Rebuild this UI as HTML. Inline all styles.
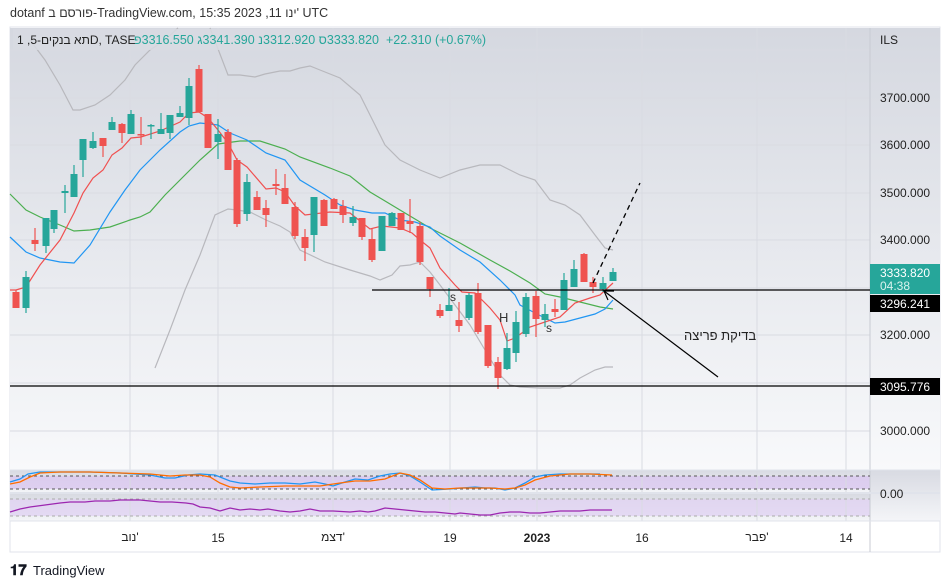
<!DOCTYPE html>
<html><head><meta charset="utf-8"><style>
body{margin:0;width:950px;height:587px;background:#fff;font-family:"Liberation Sans","Noto Sans CJK JP",sans-serif;overflow:hidden;position:relative}
.t{position:absolute;white-space:nowrap;direction:ltr}
.ib{display:inline-block}
.ax{position:absolute;top:530px;font-size:12px;color:#222;width:60px;text-align:center;direction:ltr}
</style></head><body>
<svg id="s" width="950" height="587" style="position:absolute;left:0;top:0" font-family="Liberation Sans, DejaVu Sans, sans-serif">
<defs>
<linearGradient id="bg" x1="0" y1="0" x2="0" y2="1"><stop offset="0" stop-color="#d5d8e0"/><stop offset="1" stop-color="#f8f9fb"/></linearGradient>
<linearGradient id="pg" x1="0" y1="0" x2="0" y2="1"><stop offset="0" stop-color="#d8dae2"/><stop offset="1" stop-color="#f4f5f8"/></linearGradient>
</defs>
<rect x="10" y="27" width="930" height="525" fill="#fff" stroke="#e0e3eb"/>
<rect x="10" y="28" width="860" height="442" fill="url(#bg)"/>
<rect x="870" y="28" width="70" height="442" fill="url(#bg)"/>
<rect x="10" y="470" width="860" height="23" fill="url(#pg)"/>
<rect x="10" y="494" width="860" height="27" fill="url(#pg)"/>
<rect x="870" y="470" width="70" height="51" fill="url(#pg)"/>
<rect x="10" y="476" width="860" height="13" fill="#d9c7ef" opacity="0.8"/>
<rect x="10" y="499" width="860" height="17" fill="#e1d3f3" opacity="0.8"/>
<g stroke="#d9dbe2" stroke-width="1">
<line x1="130" y1="28" x2="130" y2="521"/><line x1="218" y1="28" x2="218" y2="521"/><line x1="333" y1="28" x2="333" y2="521"/><line x1="450" y1="28" x2="450" y2="521"/><line x1="537" y1="28" x2="537" y2="521"/><line x1="642" y1="28" x2="642" y2="521"/><line x1="757" y1="28" x2="757" y2="521"/><line x1="846" y1="28" x2="846" y2="521"/>
<line x1="10" y1="50" x2="870" y2="50"/><line x1="10" y1="98" x2="870" y2="98"/><line x1="10" y1="145" x2="870" y2="145"/><line x1="10" y1="193" x2="870" y2="193"/><line x1="10" y1="240" x2="870" y2="240"/><line x1="10" y1="288" x2="870" y2="288"/><line x1="10" y1="335" x2="870" y2="335"/><line x1="10" y1="383" x2="870" y2="383"/><line x1="10" y1="431" x2="870" y2="431"/>
</g>
<line x1="870" y1="28" x2="870" y2="552" stroke="#c8cbd3"/>
<line x1="10" y1="470" x2="940" y2="470" stroke="#e0e3eb"/>
<line x1="10" y1="493" x2="940" y2="493" stroke="#e0e3eb" stroke-width="2"/>
<line x1="10" y1="521" x2="940" y2="521" stroke="#e0e3eb"/>
<g stroke="#555" stroke-dasharray="3,3"><line x1="10" y1="476" x2="870" y2="476"/><line x1="10" y1="489" x2="870" y2="489"/></g>
<g stroke="#aaa" stroke-dasharray="3,3"><line x1="10" y1="499" x2="870" y2="499"/><line x1="10" y1="516" x2="870" y2="516"/></g>
<polyline fill="none" stroke="#2196f3" stroke-width="1.3" points="10,482 20,479 28,474 40,472 60,472 90,472 120,473 150,475 165,478 175,478 188,475 200,474 215,475 230,481 240,483 255,484 270,483 285,483 300,484 315,482 325,484 333,486 345,482 355,479 368,480 380,476 390,474 400,473 410,476 420,482 432,490 450,489 462,488 475,487 485,488 495,488 505,490 515,488 525,483 535,477 545,475 560,474 575,474 585,474 600,474"/>
<polyline fill="none" stroke="#ff6d00" stroke-width="1.3" points="10,484 20,482 30,477 40,473 60,472 90,472 120,473 150,474 170,476 185,475 200,475 210,477 220,483 230,487 240,488 260,487 285,486 300,486 320,486 340,483 355,481 370,481 385,479 400,473 410,475 420,480 432,488 445,489 460,488 475,488 490,488 505,489 515,488 525,485 535,480 550,476 570,474 590,474 612,475"/>
<polyline fill="none" stroke="#9c27b0" stroke-width="1.3" points="10,512 20,509 30,507 45,505 60,503 70,502 85,502 95,501 110,501 120,500 130,500 140,500 150,501 160,502 172,502 186,503 193,504 200,507 210,508 220,511 230,508 240,510 250,509 260,510 268,509 280,511 290,512 300,511 310,509 320,511 333,511 350,512 360,511 368,512 375,511 385,508 395,509 405,510 415,511 425,512 435,512 445,513 455,514 460,513 470,514 480,515 490,515 500,513 510,512 520,512 530,513 540,513 550,512 560,511 570,511 580,511 590,510 600,510 612,510"/>
<g id="ov" fill="none" stroke-width="1.2">
<polyline stroke="#b8b8bd" points="30,40 45,60 60,85 73,110 80,110 95,105 110,95 125,80 135,65 150,50 165,40 178,28"/>
<polyline stroke="#b8b8bd" points="210,28 228,75 240,75 255,77 265,74 280,71 290,71 300,68 310,66 320,70 340,78 360,95 375,125 385,145 400,160 420,170 440,178 460,170 480,165 500,165 520,175 535,180 550,200 565,205 580,215 595,235 605,248 613,250"/>
<polyline stroke="#b8b8bd" points="155,368 170,330 185,290 200,255 215,215 228,209 237,210 250,212 266,220 280,226 290,232 300,250 325,262 350,270 370,276 380,280 392,275 400,266 410,265 420,262 430,272 440,285 455,305 470,325 485,350 500,375 510,385 520,387 540,388 560,388 570,385 580,378 595,370 605,367 613,367"/>
<polyline stroke="#4caf50" points="10,194 26,210 40,217 60,225 74,231 90,230 110,227 130,220 140,217 150,212 165,195 180,180 200,160 218,144 240,141 260,141 285,149 300,157 330,168 350,176 370,192 400,210 430,228 460,243 490,260 510,271 530,283 545,294 560,297 580,302 600,307 613,309"/>
<polyline stroke="#2196f3" points="10,237 26,252 40,258 60,262 74,263 90,245 110,212 125,190 140,170 160,150 180,132 189,126 200,123 218,125 230,133 247,140 266,153 285,160 300,180 325,195 340,205 355,210 372,213 385,213 400,220 415,222 430,227 440,236 460,250 480,262 500,280 515,295 520,305 535,313 545,318 555,323 565,322 580,318 595,314 605,309 613,300"/>
<polyline stroke="#f05050" points="10,290 16,290 26,287 40,265 60,240 74,213 83,193 93,178 103,170 112,155 122,148 131,138 141,137 160,131 180,122 189,113 199,112 208,118 218,130 228,143 237,160 247,167 266,189 276,188 285,192 295,206 305,215 330,212 350,213 370,229 382,226 400,228 412,233 420,240 430,248 440,268 455,285 462,292 475,293 490,308 500,320 507,341 515,338 530,327 545,322 560,317 575,303 590,298 600,295 613,283"/>
</g>
<g id="c"></g>
<line x1="372" y1="290" x2="870" y2="290" stroke="#000" stroke-width="1.3"/>
<line x1="10" y1="386" x2="870" y2="386" stroke="#000" stroke-width="1.3"/>
<line x1="593" y1="283" x2="640" y2="183" stroke="#000" stroke-width="1.3" stroke-dasharray="5,4"/>
<line x1="718" y1="377" x2="604" y2="291" stroke="#000" stroke-width="1.2"/>
<polyline points="614,291 604,291 608,300" fill="none" stroke="#000" stroke-width="1.2"/>
<text x="450" y="301" font-size="12" fill="#333">s</text>
<text x="546" y="332" font-size="12" fill="#333">s</text>
<text x="499" y="322" font-size="13" fill="#333">H</text>
<rect x="13" y="29" width="465" height="21" fill="#d8dbe2" opacity="0.85"/>
<g font-size="12" fill="#222">
<text x="880" y="44">ILS</text>
<text x="880" y="102">3700.000</text><text x="880" y="149">3600.000</text><text x="880" y="197">3500.000</text><text x="880" y="244">3400.000</text><text x="880" y="339">3200.000</text><text x="880" y="435">3000.000</text>
<text x="880" y="498">0.00</text>
</g>
<rect x="870" y="264" width="70" height="30" fill="#26a69a"/>
<text x="880" y="277" font-size="12" fill="#fff">3333.820</text><text x="880" y="290" font-size="12" fill="#d9f2ee">04:38</text>
<rect x="870" y="295" width="70" height="17" fill="#000"/><text x="880" y="308" font-size="12" fill="#fff">3296.241</text>
<rect x="870" y="378" width="70" height="17" fill="#000"/><text x="880" y="391" font-size="12" fill="#fff">3095.776</text>
<g font-size="12" fill="#222" text-anchor="middle">
<text x="218" y="542">15</text>
<text x="450" y="542">19</text><text x="537" y="542" font-weight="bold">2023</text><text x="642" y="542">16</text>
<text x="846" y="542">14</text>
</g>
<text x="10" y="575" font-size="15" font-weight="bold" fill="#131722">𝟏𝟕</text>
<text x="33" y="575" font-size="13" fill="#131722">TradingView</text>
</svg>
<div class="t" style="left:10px;top:6px;font-size:12.5px;color:#333"><span class="ib">dotanf</span> <span class="ib">פורסם ב-TradingView.com,</span> <span class="ib">15:35 2023 ,11</span> <span class="ib">ינו'</span> <span class="ib">UTC</span></div>
<div class="t" style="left:17px;top:33px;font-size:12px;color:#222"><span class="ib">1 ,5-</span><span class="ib">תא בנקים</span><span class="ib">D, TASE</span></div>
<div class="t" style="left:134px;top:33px;font-size:12.5px;color:#26a69a"><span class="ib">פ</span><span class="ib">3316.550</span>&nbsp;<span class="ib">ג</span><span class="ib">3341.390</span>&nbsp;<span class="ib">נ</span><span class="ib">3312.920</span>&nbsp;<span class="ib">ס</span><span class="ib">3333.820</span>&nbsp;&nbsp;<span class="ib">+22.310 (+0.67%)</span></div>
<div class="t" style="left:684px;top:328px;font-size:13px;color:#222">בדיקת פריצה</div>
<div class="ax" style="left:100px">נוב'</div>
<div class="ax" style="left:303px">דצמ'</div>
<div class="ax" style="left:727px">פבר'</div>
<script>
var d=[[16,'r',292,308,290,308],[26,'g',277,308,271,313],[35,'r',240,244,228,251],[46,'g',218,246,218,253],[54,'g',210,229,210,233],[65,'g',191,193,185,213],[74,'g',174,197,165,197],[83,'g',139,160,139,177],[93,'g',141,148,132,149],[103,'r',138,146,138,157],[112,'g',122,130,117,130],[122,'r',124,133,123,143],[131,'g',114,134,110,134],[141,'r',134,135,117,145],[151,'g',125,126,124,139],[161,'g',129,134,113,134],[170,'g',115,133,115,139],[180,'g',113,117,106,117],[189,'g',86,118,78,125],[199,'r',69,112,65,112],[208,'r',114,148,114,148],[218,'g',134,142,119,159],[228,'r',132,170,129,170],[237,'r',160,224,158,227],[247,'g',182,214,174,221],[257,'r',197,210,191,210],[266,'r',208,215,200,227],[276,'r',184,186,169,195],[285,'r',188,204,174,204],[295,'r',207,236,202,239],[305,'r',237,248,229,261],[314,'g',197,235,197,252],[324,'r',200,226,199,226],[334,'r',199,209,198,209],[343,'r',206,215,200,223],[353,'g',217,223,206,226],[362,'r',218,237,218,240],[372,'r',239,260,229,262],[382,'g',216,251,216,251],[392,'g',213,226,212,226],[401,'r',213,230,213,230],[410,'r',221,224,199,233],[420,'r',226,262,222,265],[430,'r',277,289,277,297],[440,'r',310,316,304,318],[449,'g',305,311,288,311],[459,'r',320,326,302,332],[469,'g',295,318,293,320],[478,'r',293,332,283,334],[488,'r',325,366,325,368],[498,'r',362,378,357,389],[507,'g',348,369,333,370],[516,'g',322,353,311,362],[526,'g',297,334,293,337],[536,'r',296,319,291,337],[545,'g',314,320,304,327],[555,'r',309,312,299,317],[564,'g',280,310,273,310],[574,'g',269,287,260,287],[584,'r',254,282,253,282],[593,'r',282,287,277,293],[603,'g',283,289,277,292],[613,'g',272,281,268,281]];
var g=document.getElementById('c'),h='';
d.forEach(function(c){var col=c[1]=='r'?'#ef5350':'#26a69a';
h+='<line x1="'+c[0]+'" y1="'+c[4]+'" x2="'+c[0]+'" y2="'+c[5]+'" stroke="'+col+'" stroke-width="1.2"/>';
h+='<rect x="'+(c[0]-3.5)+'" y="'+c[2]+'" width="7" height="'+Math.max(1.5,c[3]-c[2])+'" fill="'+col+'"/>';});
g.innerHTML=h;
</script>
</body></html>
